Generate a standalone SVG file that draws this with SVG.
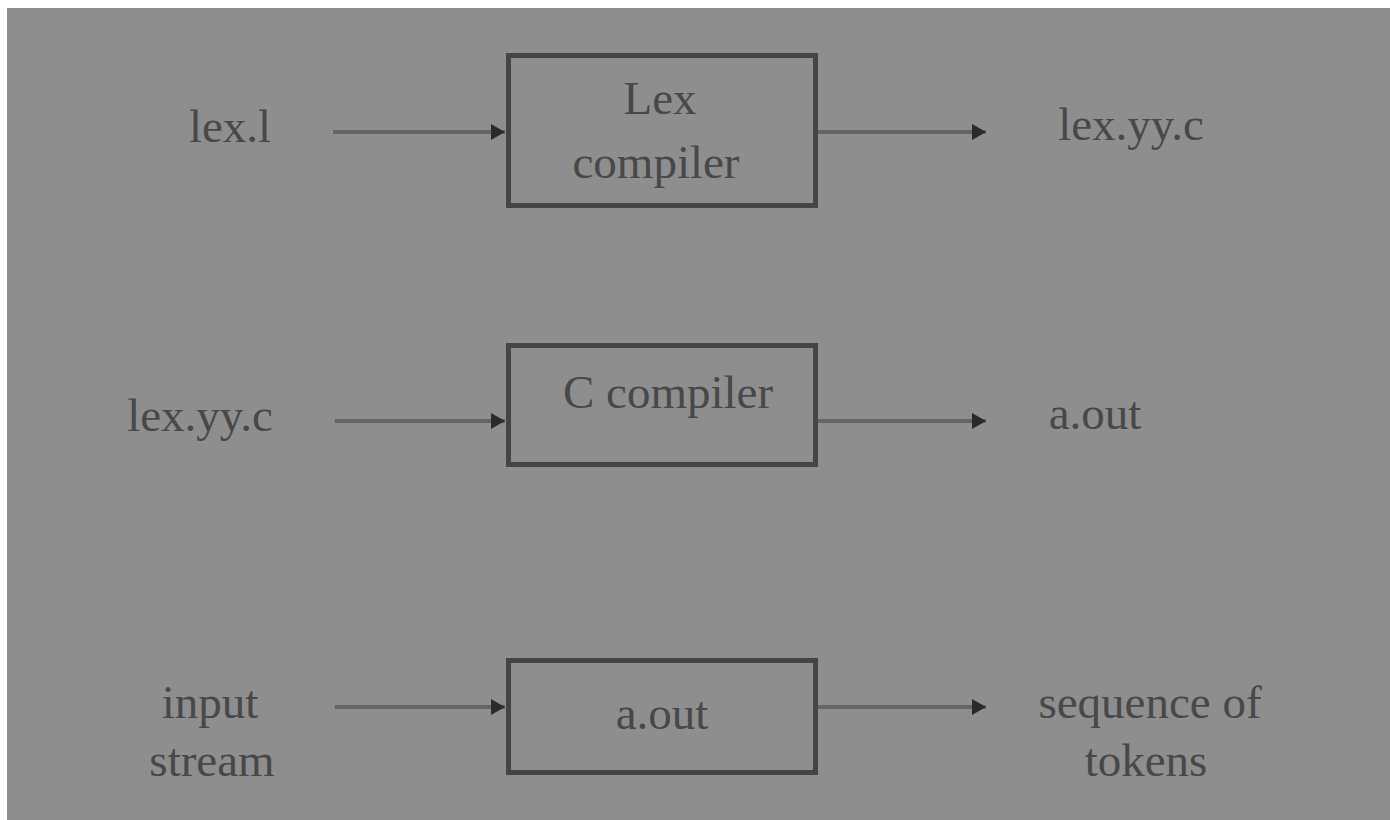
<svg xmlns="http://www.w3.org/2000/svg" width="1390" height="820" viewBox="0 0 1390 820">
<style>
.bg{fill:#8e8e8e}
.box{fill:#8e8e8e;stroke:#454545;stroke-width:5}
.t{font-family:"Liberation Serif","Times New Roman",serif;font-size:47px;fill:#484848;text-anchor:middle}
.c{stroke:#656565;stroke-width:4;fill:none}
</style>
<defs>
<marker id="ah" markerWidth="4" markerHeight="4" refX="3.5" refY="2" orient="auto" markerUnits="strokeWidth">
<path d="M0,0 L3.5,2 L0,4 Z" fill="#2a2a2a"/>
</marker>
</defs>
<rect x="0" y="0" width="1390" height="820" fill="#ffffff"/>
<rect class="bg" x="7" y="8" width="1383" height="812"/>
<g id="connectors">
<line class="c" x1="333" y1="132" x2="505" y2="132" marker-end="url(#ah)"/>
<line class="c" x1="818" y1="132" x2="986" y2="132" marker-end="url(#ah)"/>
<line class="c" x1="335" y1="421" x2="505" y2="421" marker-end="url(#ah)"/>
<line class="c" x1="818" y1="421" x2="986" y2="421" marker-end="url(#ah)"/>
<line class="c" x1="335" y1="707" x2="505" y2="707" marker-end="url(#ah)"/>
<line class="c" x1="818" y1="707" x2="986" y2="707" marker-end="url(#ah)"/>
</g>
<g id="lexl"><text class="t" x="230" y="142">lex.l</text></g>
<g id="lexcompiler">
<rect class="box" x="508.5" y="55.5" width="307" height="150"/>
<text class="t" x="660" y="114">Lex</text>
<text class="t" x="656" y="178">compiler</text>
</g>
<g id="lexyyc1"><text class="t" x="1131" y="140">lex.yy.c</text></g>
<g id="lexyyc2"><text class="t" x="200" y="431">lex.yy.c</text></g>
<g id="ccompiler">
<rect class="box" x="508.5" y="345.5" width="307" height="119"/>
<text class="t" x="668" y="408">C compiler</text>
</g>
<g id="aout1"><text class="t" x="1095" y="429">a.out</text></g>
<g id="input"><text class="t" x="210" y="718">input</text><text class="t" x="212" y="776">stream</text></g>
<g id="aout2">
<rect class="box" x="508.5" y="660.5" width="307" height="112"/>
<text class="t" x="662" y="729">a.out</text>
</g>
<g id="tokens"><text class="t" x="1150" y="718">sequence of</text><text class="t" x="1146" y="776">tokens</text></g>
</svg>
